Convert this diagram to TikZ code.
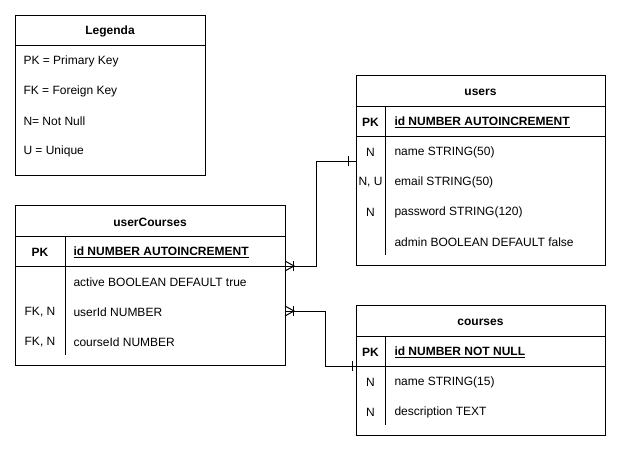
\documentclass[tikz,border=0pt]{standalone}
\usepackage{fontspec}
\setmainfont{Liberation Sans}
\begin{document}
\begin{tikzpicture}[x=1pt,y=-1pt,line width=1pt,
  tbl/.style={draw,anchor=north west,inner sep=0pt},
  txt/.style={inner sep=0pt,yshift=-1pt,font=\fontsize{12}{14}\selectfont},
  ttl/.style={txt,font=\fontsize{12}{14}\selectfont\bfseries},
  fld/.style={txt,anchor=west},
  key/.style={txt}]
\useasboundingbox (0,0) rectangle (621,451);
% Legenda
\node[tbl,minimum width=190pt,minimum height=160pt] (leg) at (15,15) {};
\draw (15,45) -- (205,45);
\node[ttl] (legT) at (110,30) {Legenda};
\node[fld] (l1) at (23,60) {PK = Primary Key};
\node[fld] (l2) at (23,90) {FK = Foreign Key};
\node[fld] (l3) at (23,120) {N= Not Null};
\node[fld] (l4) at (23,150) {U = Unique};
% users
\node[tbl,minimum width=249pt,minimum height=190pt] (users) at (356,75) {};
\draw (356,106) -- (605,106);
\draw (356,136) -- (605,136);
\draw (385,106) -- (385,255);
\node[ttl] (usT) at (480.5,91) {users};
\node[ttl] (usK) at (370.5,121) {PK};
\node[fld,font=\fontsize{12}{14}\selectfont\bfseries] (usId) at (394,121) {\underline{id NUMBER AUTOINCREMENT}};
\node[key] (usK1) at (370.5,151) {N};
\node[fld] (usF1) at (394,151) {name STRING(50)};
\node[key] (usK2) at (370.5,181) {N, U};
\node[fld] (usF2) at (394,181) {email STRING(50)};
\node[key] (usK3) at (370.5,211) {N};
\node[fld] (usF3) at (394,211) {password STRING(120)};
\node[fld] (usF4) at (394,241) {admin BOOLEAN DEFAULT false};
% userCourses
\node[tbl,minimum width=270pt,minimum height=160pt] (uc) at (15,205) {};
\draw (15,236) -- (285,236);
\draw (15,266) -- (285,266);
\draw (65,236) -- (65,355);
\node[ttl] (ucT) at (150,221) {userCourses};
\node[ttl] (ucK) at (40,251) {PK};
\node[fld,font=\fontsize{12}{14}\selectfont\bfseries] (ucId) at (73,251) {\underline{id NUMBER AUTOINCREMENT}};
\node[fld] (ucF1) at (73,281) {active BOOLEAN DEFAULT true};
\node[key] (ucK2) at (40,311) {FK, N};
\node[fld] (ucF2) at (73,311) {userId NUMBER};
\node[key] (ucK3) at (40,341) {FK, N};
\node[fld] (ucF3) at (73,341) {courseId NUMBER};
% courses
\node[tbl,minimum width=249pt,minimum height=130pt] (courses) at (356,305) {};
\draw (356,336) -- (605,336);
\draw (356,366) -- (605,366);
\draw (385,336) -- (385,425);
\node[ttl] (coT) at (480.5,321) {courses};
\node[ttl] (coK) at (370.5,351) {PK};
\node[fld,font=\fontsize{12}{14}\selectfont\bfseries] (coId) at (394,351) {\underline{id NUMBER NOT NULL}};
\node[key] (coK1) at (370.5,381) {N};
\node[fld] (coF1) at (394,381) {name STRING(15)};
\node[key] (coK2) at (370.5,411) {N};
\node[fld] (coF2) at (394,411) {description TEXT};
% connectors
\coordinate (ucA) at (285,266);
\coordinate (usA) at (356,161);
\coordinate (ucB) at (285,311);
\coordinate (coA) at (356,366);
\draw (ucA) -- ++(31,0) |- (usA);
\draw (ucB) -- ++(40,0) |- (coA);
% crow's feet
\draw ([shift={(0,-5)}]ucA) -- ([shift={(9,0)}]ucA) -- ([shift={(0,5)}]ucA);
\draw ([shift={(8,-5)}]ucA) -- ([shift={(8,5)}]ucA);
\draw ([shift={(0,-5)}]ucB) -- ([shift={(9,0)}]ucB) -- ([shift={(0,5)}]ucB);
\draw ([shift={(8,-5)}]ucB) -- ([shift={(8,5)}]ucB);
% one marks
\draw ([shift={(-8,-5)}]usA) -- ([shift={(-8,5)}]usA);
\draw ([shift={(-4,-5)}]coA) -- ([shift={(-4,5)}]coA);
\end{tikzpicture}
\end{document}
